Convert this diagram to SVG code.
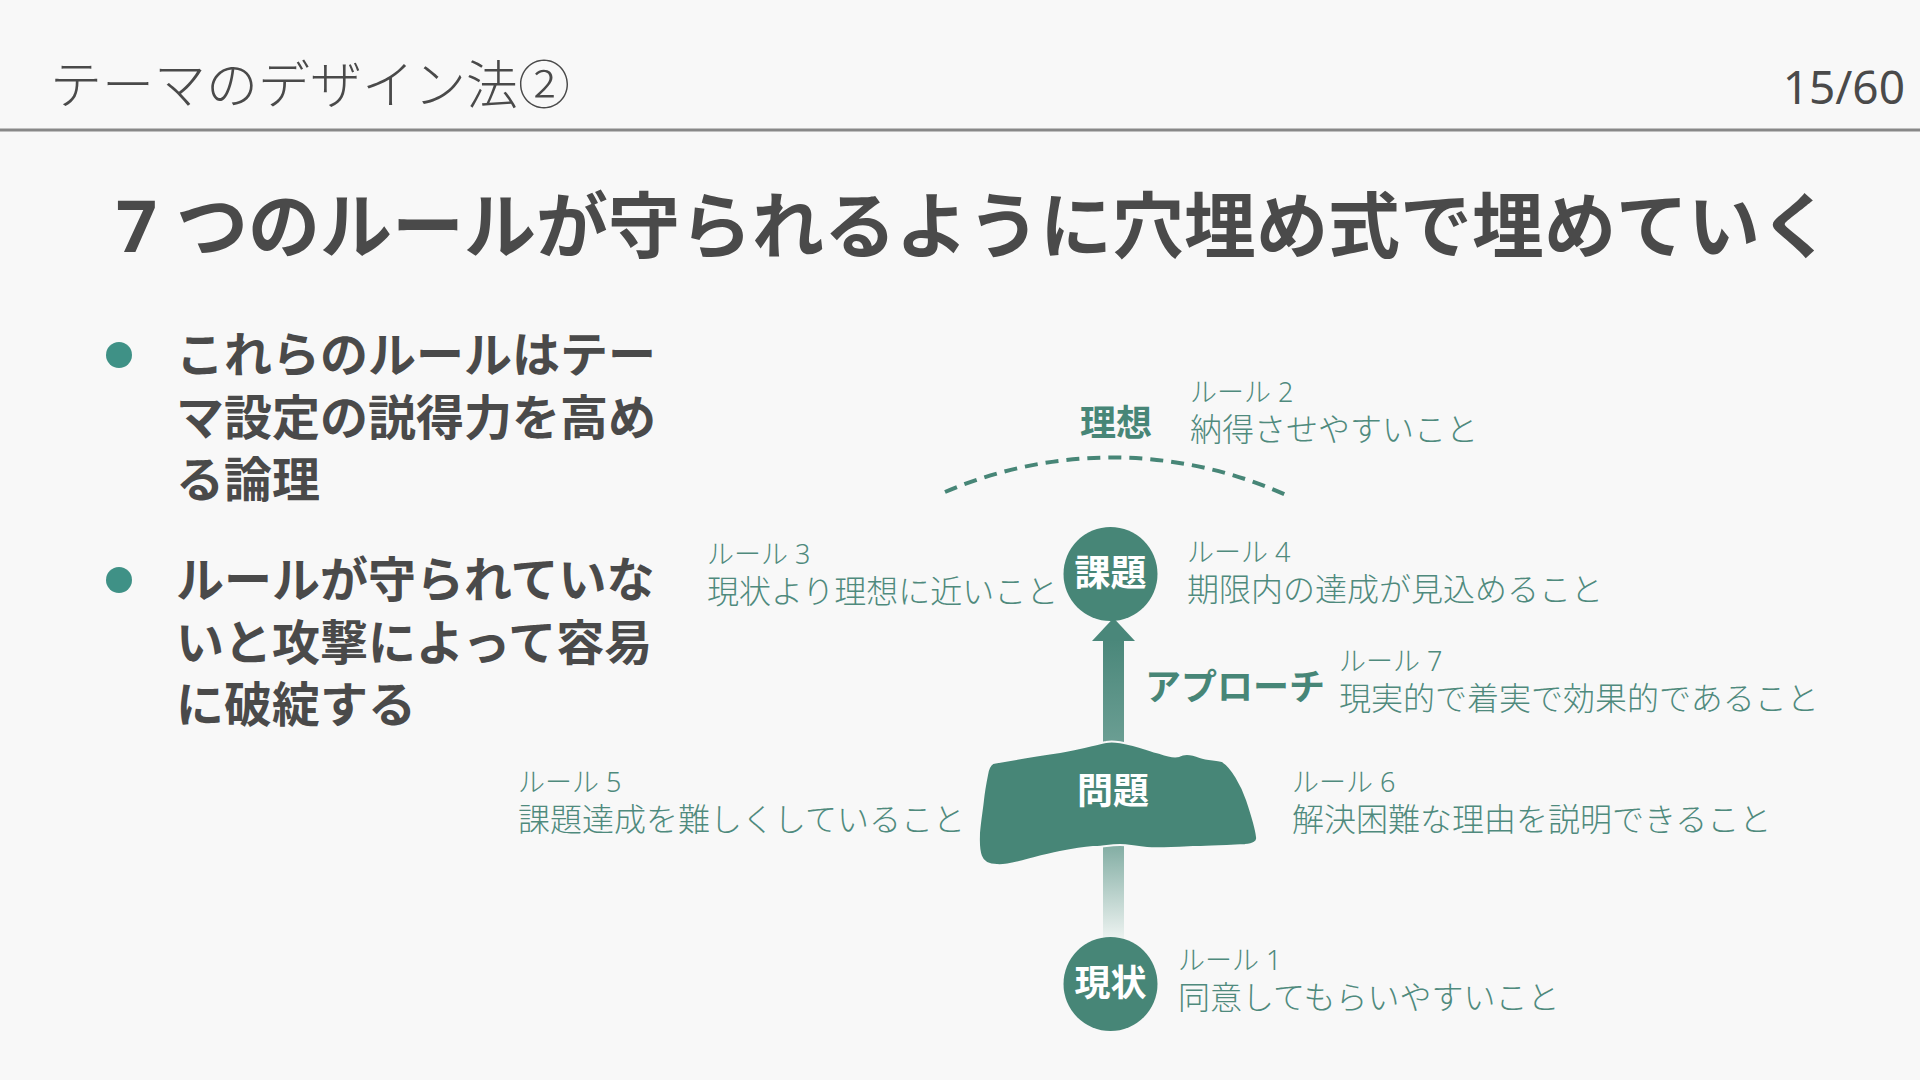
<svg xmlns="http://www.w3.org/2000/svg" width="1920" height="1080" viewBox="0 0 1920 1080">
<defs>
<style>
.hdr{font-family:"Noto Sans","Noto Sans CJK JP",sans-serif;fill:#4a4a4a;font-size:52px;font-weight:300}
.pg{font-family:"Noto Sans","Noto Sans CJK JP",sans-serif;fill:#4a4a4a;font-size:46px;font-weight:400}
.ttl{font-family:"Noto Sans","Noto Sans CJK JP",sans-serif;fill:#4a4a4a;font-size:72px;font-weight:700}
.blt{font-family:"Noto Sans","Noto Sans CJK JP",sans-serif;fill:#4a4a4a;font-size:48px;font-weight:700}
.dot{fill:#3f9186}
.node{fill:#478677}
.nlab{font-family:"Noto Sans","Noto Sans CJK JP",sans-serif;fill:#ffffff;font-size:36px;font-weight:700;text-anchor:middle}
.blab{font-family:"Noto Sans","Noto Sans CJK JP",sans-serif;fill:#478677;font-size:36px;font-weight:700}
.rl{font-family:"Noto Sans","Noto Sans CJK JP",sans-serif;fill:#4f8a7d;font-size:27px;font-weight:300}
.rd{font-family:"Noto Sans","Noto Sans CJK JP",sans-serif;fill:#4f8a7d;font-size:32px;font-weight:300}
</style>
<linearGradient id="gUp" x1="0" y1="0" x2="0" y2="1">
<stop offset="0" stop-color="#4a877a"/>
<stop offset="1" stop-color="#6c9f94"/>
</linearGradient>
<linearGradient id="gDown" x1="0" y1="0" x2="0" y2="1">
<stop offset="0" stop-color="#82ada3"/>
<stop offset="1" stop-color="#edf3f1"/>
</linearGradient>
</defs>
<rect x="0" y="0" width="1920" height="1080" fill="#f8f8f8"/>

<g id="header">
<text class="hdr" x="50" y="104">テーマのデザイン法②</text>
<text class="pg" x="1905" y="104" text-anchor="end">15/60</text>
<line x1="0" y1="130" x2="1920" y2="130" stroke="#888888" stroke-width="3"/>
</g>

<g id="title">
<text class="ttl" x="974" y="252" text-anchor="middle">7 つのルールが守られるように穴埋め式で埋めていく</text>
</g>

<g id="bullets">
<circle class="dot" cx="119" cy="355" r="13"/>
<text class="blt" x="176" y="372">これらのルールはテー</text>
<text class="blt" x="176" y="434.5">マ設定の説得力を高め</text>
<text class="blt" x="176" y="497">る論理</text>
<circle class="dot" cx="119" cy="580" r="13"/>
<text class="blt" x="176" y="597">ルールが守られていな</text>
<text class="blt" x="176" y="659.5">いと攻撃によって容易</text>
<text class="blt" x="176" y="722">に破綻する</text>
</g>

<g id="connectors">
<rect x="1103" y="845" width="21" height="94" fill="url(#gDown)"/>
<rect x="1103" y="639" width="21" height="108" fill="url(#gUp)"/>
<polygon points="1092,641 1113.5,618 1135,641" fill="#4a877a"/>
</g>

<g id="node-risou">
<path d="M945,492 A422,422 0 0 1 1286,495" fill="none" stroke="#478677" stroke-width="4" stroke-dasharray="13 8"/>
<text class="blab" x="1116" y="436" text-anchor="middle">理想</text>
</g>

<g id="node-kadai">
<circle class="node" cx="1110.5" cy="574" r="47"/>
<text class="nlab" x="1110.5" y="586">課題</text>
</g>

<g id="node-mondai">
<path class="node" stroke="#f8f8f8" stroke-width="2" d="M993,763 C1020,758 1040,755 1060,752 C1080,749 1095,744 1106,742 C1115,740 1125,743 1133,745 C1145,748 1150,751 1160,753 C1168,756 1175,757 1179,756 C1184,753 1190,753 1200,757 C1208,760 1215,759 1222,761 C1232,767 1242,785 1247,800 C1252,815 1256,828 1257,837 C1258,842 1253,844 1245,845 C1225,846 1205,847 1193,847 C1175,848 1160,849 1147,848 C1135,847 1128,845 1120,845 C1110,845 1100,847 1093,847 C1080,848 1070,850 1060,852 C1045,855 1035,858 1027,860 C1015,863 1005,866 997,865 C988,865 983,862 981,856 C978,848 979,840 979,833 C980,820 982,810 983,800 C984,790 986,780 987,775 C988,768 990,765 993,763 Z"/>
<text class="nlab" x="1113" y="804">問題</text>
</g>

<g id="node-genjou">
<circle class="node" cx="1110.5" cy="984" r="47"/>
<text class="nlab" x="1110.5" y="996">現状</text>
</g>

<g id="approach">
<text class="blab" x="1145" y="700">アプローチ</text>
</g>

<g id="rule1">
<text class="rl" x="1178" y="970">ルール 1</text>
<text class="rd" x="1178" y="1009">同意してもらいやすいこと</text>
</g>
<g id="rule2">
<text class="rl" x="1190" y="402">ルール 2</text>
<text class="rd" x="1190" y="441">納得させやすいこと</text>
</g>
<g id="rule3">
<text class="rl" x="707" y="564">ルール 3</text>
<text class="rd" x="707" y="603">現状より理想に近いこと</text>
</g>
<g id="rule4">
<text class="rl" x="1187" y="562">ルール 4</text>
<text class="rd" x="1187" y="601">期限内の達成が見込めること</text>
</g>
<g id="rule5">
<text class="rl" x="518" y="792">ルール 5</text>
<text class="rd" x="518" y="831">課題達成を難しくしていること</text>
</g>
<g id="rule6">
<text class="rl" x="1292" y="792">ルール 6</text>
<text class="rd" x="1292" y="831">解決困難な理由を説明できること</text>
</g>
<g id="rule7">
<text class="rl" x="1339" y="671">ルール 7</text>
<text class="rd" x="1339" y="710">現実的で着実で効果的であること</text>
</g>
</svg>
